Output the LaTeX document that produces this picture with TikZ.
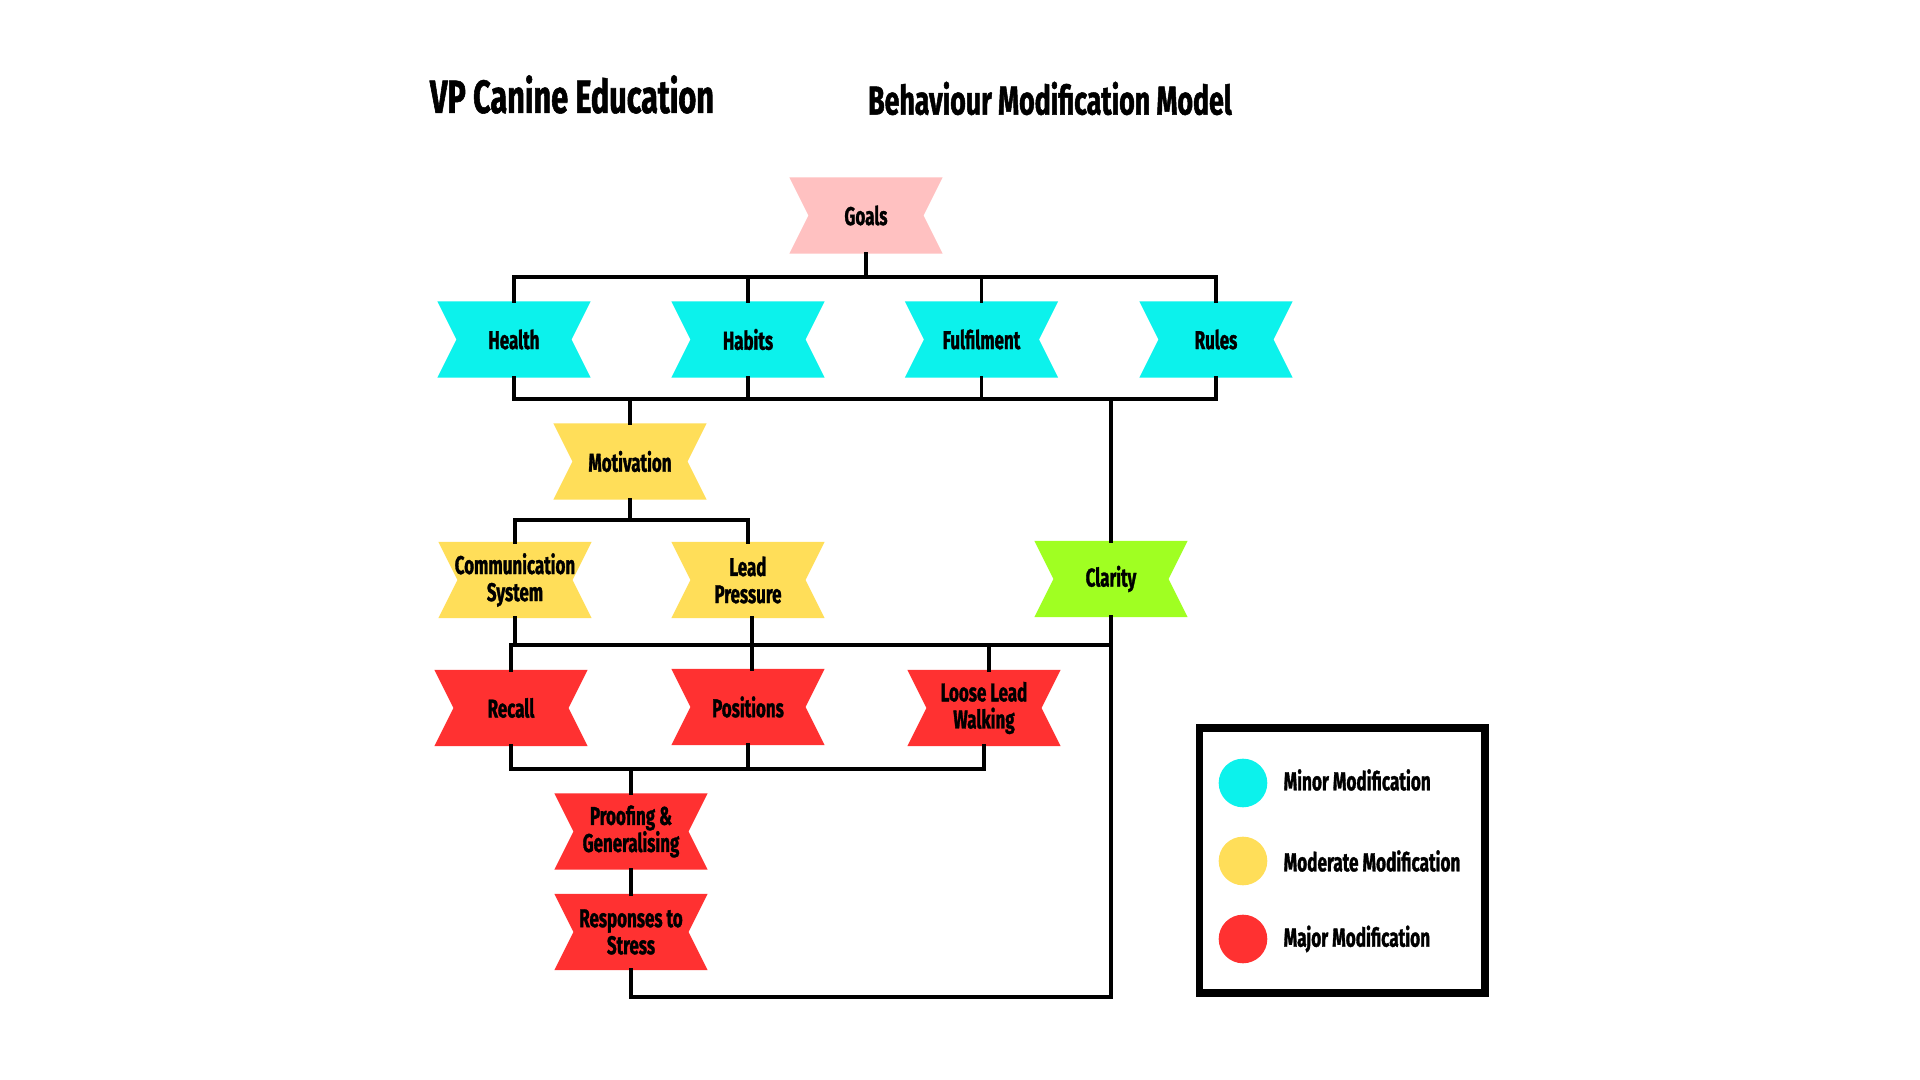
\documentclass[tikz,border=0pt]{standalone}
\usepackage{fontspec}
\setmainfont{Fira Sans}[FakeStretch=0.66, BoldFeatures={FakeBold=1.2}]
\definecolor{cpink}{HTML}{FFC1C1}
\definecolor{ccyan}{HTML}{0CF2EC}
\definecolor{cyellow}{HTML}{FFDE59}
\definecolor{cred}{HTML}{FF3131}
\definecolor{clime}{HTML}{A0FF22}
\begin{document}
\begin{tikzpicture}[x=0.01cm,y=-0.01cm,
  bow/.style={rectangle, inner sep=0pt, outer sep=0pt,
    minimum width=1.53cm, minimum height=0.76cm, align=center,
    font=\bfseries\fontsize{7.3pt}{7.7pt}\selectfont,
    path picture={\fill[#1] (path picture bounding box.north west) -- (path picture bounding box.north east)
      -- ([xshift=-0.19cm]path picture bounding box.east) -- (path picture bounding box.south east)
      -- (path picture bounding box.south west) -- ([xshift=0.19cm]path picture bounding box.west) -- cycle;}},
  conn/.style={line width=1pt, line cap=rect, line join=miter},
  title/.style={font=\bfseries\fontsize{13.2pt}{15pt}\selectfont, inner sep=0pt},
  legtext/.style={font=\bfseries\fontsize{7.4pt}{9pt}\selectfont, anchor=west, inner sep=0pt},
  legdot/.style={circle, inner sep=0pt, minimum size=0.486cm, fill=#1}]
\fill[white] (0,0) rectangle (1920,1080);
\useasboundingbox (0,0) rectangle (1920,1080);

% titles
\node[title] (t1) at (572,94.5) {VP Canine Education};
\node[title, font=\bfseries\fontsize{11.5pt}{13pt}\selectfont] (t2) at (1050,98.5) {Behaviour Modification Model};

% bar levels
\coordinate (b1) at (0,277);
\coordinate (b2) at (0,399);
\coordinate (b3) at (0,520);
\coordinate (b4) at (0,645);
\coordinate (b5) at (0,769);
\coordinate (b6) at (0,997);

% nodes
\node[bow=cpink] (goals) at (866,215.5) {Goals};
\node[bow=ccyan] (health) at (514,339.5) {Health};
\node[bow=ccyan] (habits) at (748,339.5) {Habits};
\node[bow=ccyan] (fulfil) at (981.5,339.5) {Fulfilment};
\node[bow=ccyan] (rules) at (1216,339.5) {Rules};
\node[bow=cyellow] (motiv) at (630,461.5) {Motivation};
\node[bow=cyellow] (comm) at (515,580) {Communication\\System};
\node[bow=cyellow] (lead) at (748,580) {Lead\\Pressure};
\node[bow=clime] (clarity) at (1111,579) {Clarity};
\node[bow=cred] (recall) at (511,708) {Recall};
\node[bow=cred] (positions) at (748,707) {Positions};
\node[bow=cred] (llw) at (984,708) {Loose Lead\\Walking};
\node[bow=cred] (proof) at (631,831.5) {Proofing \&\\Generalising};
\node[bow=cred] (resp) at (631,932) {Responses to\\Stress};

% connectors: goals -> cyan row
\draw[conn] (goals.south) -- (goals.south |- b1);
\draw[conn] (health.north) -- (health.north |- b1) -- (rules.north |- b1) -- (rules.north);
\draw[conn] (habits.north) -- (habits.north |- b1);
\draw[conn] (fulfil.north) -- (fulfil.north |- b1);

% cyan row -> motivation, clarity
\draw[conn] (health.south) -- (health.south |- b2) -- (rules.south |- b2) -- (rules.south);
\draw[conn] (habits.south) -- (habits.south |- b2);
\draw[conn] (fulfil.south) -- (fulfil.south |- b2);
\draw[conn] (motiv.north) -- (motiv.north |- b2);
\draw[conn] (clarity.north) -- (clarity.north |- b2);

% motivation -> comm, lead
\draw[conn] (motiv.south) -- (motiv.south |- b3);
\draw[conn] (comm.north) -- (comm.north |- b3) -- (lead.north |- b3) -- (lead.north);

% comm, lead, clarity -> recall, positions, llw
\draw[conn] (comm.south) -- (comm.south |- b4) -- (clarity.south |- b4);
\draw[conn] ([xshift=0.04cm]lead.south) -- ([xshift=0.04cm]positions.north);
\draw[conn] (recall.north) -- (recall.north |- b4);
\draw[conn] ([xshift=0.05cm]llw.north) -- ([xshift=0.05cm]llw.north |- b4);

% recall, positions, llw -> proofing
\draw[conn] (recall.south) -- (recall.south |- b5) -- (llw.south |- b5) -- (llw.south);
\draw[conn] (positions.south) -- (positions.south |- b5);
\draw[conn] (proof.north) -- (proof.north |- b5);

% proofing -> responses
\draw[conn] (proof.south) -- (resp.north);

% responses -> clarity loop
\draw[conn] (resp.south) -- (resp.south |- b6) -- (clarity.south |- b6) -- (clarity.south);

% legend
\draw[line width=2.13pt] (1199.5,728) rectangle (1485,993);
\node[legdot=ccyan] (d1) at (1243,783) {};
\node[legdot=cyellow] (d2) at (1243,861) {};
\node[legdot=cred] (d3) at (1243,939) {};
\node[legtext] (l1) at (1283,780) {Minor Modification};
\node[legtext] (l2) at (1283,861) {Moderate Modification};
\node[legtext] (l3) at (1283,939) {Major Modification};
\end{tikzpicture}
\end{document}
